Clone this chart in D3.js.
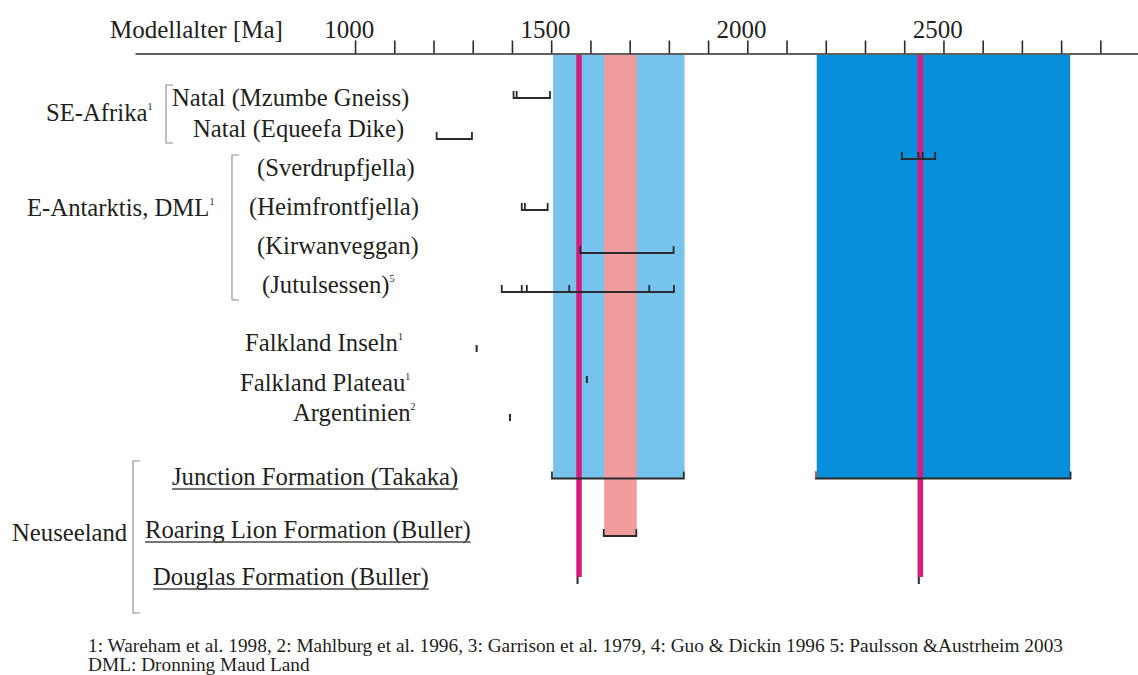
<!DOCTYPE html>
<html>
<head>
<meta charset="utf-8">
<script src="https://cdn.jsdelivr.net/npm/d3@7"></script>
<style>
  body { margin: 0; background: #fff; }
  svg text { font-family: "Liberation Serif", "Times New Roman", serif; fill: #231f20; }
</style>
</head>
<body>
<svg id="chart" width="1138" height="675"></svg>
<script>
// axis ticks (Ma)
const tickValues = [1000, 1100, 1200, 1300, 1400, 1500, 1600, 1700, 1800, 1900,
                    2000, 2100, 2200, 2300, 2400, 2500, 2600, 2700, 2800, 2900];
const tickLabels = [1000, 1500, 2000, 2500];

// sample rows
const samples = ["Natal (Mzumbe Gneiss)", "Natal (Equeefa Dike)", "(Sverdrupfjella)", "(Heimfrontfjella)",
                 "(Kirwanveggan)", "(Jutulsessen)", "Falkland Inseln", "Falkland Plateau", "Argentinien",
                 "Junction Formation (Takaka)", "Roaring Lion Formation (Buller)", "Douglas Formation (Buller)"];
const sampleNotes = ["", "", "", "", "", "5", "1", "1", "2", "", "", ""];

// regions
const regions = ["SE-Afrika", "E-Antarktis, DML", "Neuseeland"];
const regionNotes = ["1", "1", ""];

// model age ranges [Ma]
const rangeSample = ["Natal (Mzumbe Gneiss)", "Natal (Equeefa Dike)", "(Sverdrupfjella)", "(Heimfrontfjella)",
                     "(Kirwanveggan)", "(Jutulsessen)", "Junction Formation (Takaka)",
                     "Junction Formation (Takaka)", "Roaring Lion Formation (Buller)"];
const rangeFrom = [1404, 1208, 2394, 1425, 1574, 1374, 1502, 2175, 1634];
const rangeTo   = [1497, 1298, 2479, 1491, 1812, 1813, 1838, 2824, 1717];

// single model ages inside ranges
const innerSample = ["Natal (Mzumbe Gneiss)", "(Sverdrupfjella)", "(Sverdrupfjella)", "(Heimfrontfjella)",
                     "(Jutulsessen)", "(Jutulsessen)", "(Jutulsessen)", "(Jutulsessen)"];
const innerAge = [1412, 2436, 2447, 1433, 1425, 1438, 1546, 1750];

// single model ages
const singleSample = ["Falkland Inseln", "Falkland Plateau", "Argentinien",
                      "Douglas Formation (Buller)", "Douglas Formation (Buller)"];
const singleAge = [1310, 1591, 1395, 1571, 2441];

// shaded age bands and peak lines (New Zealand)
const bandFrom  = [1505, 2177, 1635];
const bandTo    = [1840, 2823, 1718];
const bandUntil = ["Junction Formation (Takaka)", "Junction Formation (Takaka)", "Roaring Lion Formation (Buller)"];
const peakAges  = [1571, 2441];

const footnotes = ["1: Wareham et al. 1998, 2: Mahlburg et al. 1996, 3: Garrison et al. 1979, 4: Guo & Dickin 1996 5: Paulsson &Austrheim 2003",
                   "DML: Dronning Maud Land"];

// ---- layout ----
const axisY = 53.5;
const markY = [98, 139, 159, 210, 253, 292, 352, 383, 421, 478.5, 536, 584];
const textY = [106, 137, 176, 215, 254, 293, 351, 391, 421, 485, 538, 585];
const textX = [172, 193, 257, 249, 257, 262, 245, 240, 293, 172, 145, 153];
const regionX = [46, 27, 12];
const regionY = [121, 216, 541];
const regionBracket = [[166, 85, 143], [232, 155, 300], [133, 461, 613]];
const bandColors = ["#76c3ee", "#0690db", "#f09b9c"];
const tickH = 7;

const svg = d3.select("#chart");
const x = d3.scaleLinear().domain([439, 2996]).range([135, 1138]);
const yMark = d3.scaleOrdinal().domain(samples).range(markY);
const yText = d3.scaleOrdinal().domain(samples).range(textY);
const xText = d3.scaleOrdinal().domain(samples).range(textX);

// bands
svg.append("g").selectAll("rect")
  .data(bandFrom)
  .join("rect")
  .attr("x", (d, i) => x(d))
  .attr("width", (d, i) => x(bandTo[i]) - x(d))
  .attr("y", axisY + 1.5)
  .attr("height", (d, i) => yMark(bandUntil[i]) - axisY - 1.5)
  .attr("fill", (d, i) => bandColors[i]);

// peak lines
svg.append("g").selectAll("line")
  .data(peakAges)
  .join("line")
  .attr("x1", d => x(d)).attr("x2", d => x(d))
  .attr("y1", axisY + 1.5)
  .attr("y2", yMark("Douglas Formation (Buller)") - tickH)
  .attr("stroke", "#d81b7c")
  .attr("stroke-width", 5.5);

// axis
const axis = d3.axisTop(x)
  .tickValues(tickValues)
  .tickSize(13)
  .tickSizeOuter(0)
  .tickPadding(3)
  .tickFormat(d => tickLabels.includes(d) ? d : "");
const gAxis = svg.append("g").attr("transform", `translate(0,${axisY})`).call(axis);
gAxis.select(".domain").attr("stroke", "#2b2b2b").attr("stroke-width", 1.6);
gAxis.selectAll(".tick line").attr("stroke", "#2b2b2b").attr("stroke-width", 1.6);
gAxis.selectAll(".tick text")
  .attr("font-family", "Liberation Serif, Times New Roman, serif")
  .attr("font-size", 25)
  .attr("fill", "#231f20")
  .attr("dx", "-0.25em");
svg.append("text").attr("x", 110).attr("y", 37.5).attr("font-size", 25).text("Modellalter [Ma]");

// range brackets
svg.append("g").selectAll("path")
  .data(rangeFrom)
  .join("path")
  .attr("d", (d, i) => {
    const y = yMark(rangeSample[i]);
    return `M${x(d)},${y - tickH}V${y}H${x(rangeTo[i])}V${y - tickH}`;
  })
  .attr("fill", "none")
  .attr("stroke", "#2b2b2b")
  .attr("stroke-width", 1.8);

// red start tick of the old Junction range
svg.append("line")
  .attr("x1", x(rangeFrom[7])).attr("x2", x(rangeFrom[7]))
  .attr("y1", yMark(rangeSample[7]) - tickH).attr("y2", yMark(rangeSample[7]) - 0.9)
  .attr("stroke", "#e2553f").attr("stroke-width", 1.8);

// inner ticks
svg.append("g").selectAll("line")
  .data(innerAge)
  .join("line")
  .attr("x1", d => x(d)).attr("x2", d => x(d))
  .attr("y1", (d, i) => yMark(innerSample[i]) - tickH)
  .attr("y2", (d, i) => yMark(innerSample[i]))
  .attr("stroke", "#2b2b2b")
  .attr("stroke-width", 1.8);

// single ages
svg.append("g").selectAll("line")
  .data(singleAge)
  .join("line")
  .attr("x1", d => x(d) - (d > 1560 && d < 1580 || d > 2430 ? 1.5 : 0))
  .attr("x2", d => x(d) - (d > 1560 && d < 1580 || d > 2430 ? 1.5 : 0))
  .attr("y1", (d, i) => yMark(singleSample[i]) - tickH)
  .attr("y2", (d, i) => yMark(singleSample[i]))
  .attr("stroke", "#2b2b2b")
  .attr("stroke-width", 2);

// sample labels
const labels = svg.append("g").selectAll("text")
  .data(samples)
  .join("text")
  .attr("x", d => xText(d))
  .attr("y", d => yText(d))
  .attr("font-size", 24.7);
labels.append("tspan").text(d => d);
labels.append("tspan")
  .attr("font-size", 10)
  .attr("dy", -11)
  .text((d, i) => sampleNotes[i]);

// underlines for the New Zealand formations
svg.append("g").selectAll("line")
  .data(samples.slice(9))
  .join("line")
  .attr("x1", d => xText(d))
  .attr("x2", (d, i) => xText(d) + labels.nodes()[9 + i].getComputedTextLength())
  .attr("y1", d => yText(d) + 4)
  .attr("y2", d => yText(d) + 4)
  .attr("stroke", "#4a4a4a")
  .attr("stroke-width", 1.3);

// region labels
const rlabels = svg.append("g").selectAll("text")
  .data(regions)
  .join("text")
  .attr("x", (d, i) => regionX[i])
  .attr("y", (d, i) => regionY[i])
  .attr("font-size", 24.7);
rlabels.append("tspan").text(d => d);
rlabels.append("tspan").attr("font-size", 10).attr("dy", -11).text((d, i) => regionNotes[i]);

// region brackets
svg.append("g").selectAll("path")
  .data(regionBracket)
  .join("path")
  .attr("d", d => `M${d[0] + 7},${d[1]}H${d[0]}V${d[2]}H${d[0] + 7}`)
  .attr("fill", "none")
  .attr("stroke", "#8a8a8a")
  .attr("stroke-width", 1.1);

// footnotes
const f1 = svg.append("text").attr("x", 88).attr("y", 652).attr("font-size", 18).text(footnotes[0]);
const squeeze = 975 / f1.node().getComputedTextLength();
f1.attr("textLength", 975).attr("lengthAdjust", "spacingAndGlyphs");
const f2 = svg.append("text").attr("x", 88).attr("y", 671).attr("font-size", 18).text(footnotes[1]);
f2.attr("textLength", f2.node().getComputedTextLength() * squeeze).attr("lengthAdjust", "spacingAndGlyphs");
</script>
</body>
</html>
